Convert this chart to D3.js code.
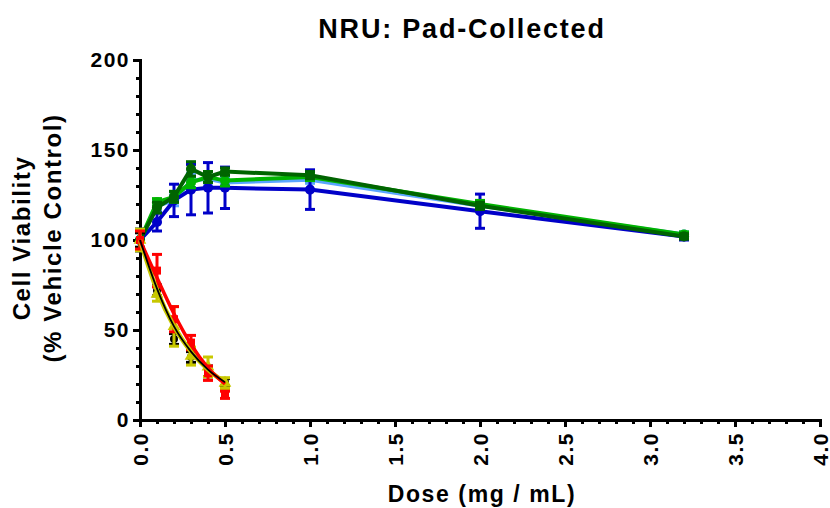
<!DOCTYPE html>
<html>
<head>
<meta charset="utf-8">
<script src="https://cdn.jsdelivr.net/npm/d3@7"></script>
<style>
  body { margin: 0; background: #fff; }
  text { font-family: "Liberation Sans", Arial, sans-serif; font-weight: bold; }
</style>
</head>
<body>
<svg width="830" height="508"></svg>
<script>
// doses
const doses = [0, 0.1, 0.2, 0.3, 0.4, 0.5, 1.0, 2.0, 3.2];
const lowDoses = [0, 0.1, 0.2, 0.3, 0.4, 0.5];

// rising series (straight line segments)
const lightBlueMean = [100, 119, 122, 133, 134, 132, 133.5, 119, 103];
const lightBlueErr = [5, 3, 3, 4, 4, 3, 2, 2, 1.5];
const blueMean = [100, 110, 122, 128, 129, 129, 128, 116, 102];
const blueErr = [6, 5, 9, 14, 14, 11.5, 11, 9.5, 2];
const lightGreenMean = [100, 121, 124, 132, 135, 133, 135, 120, 103];
const lightGreenErr = [5, 2, 3, 3, 3, 3, 2, 2, 1.5];
const darkGreenMean = [100, 118, 124, 139.5, 135, 138, 136, 119, 102];
const darkGreenErr = [6, 3, 3, 4, 3, 2, 2, 2, 1.5];

// falling series: points + fitted curve
const redMean = [100, 83, 56, 43, 26, 14];
const redErr = [5, 9, 7, 4, 4, 2];
const redFit = [100, 79, 59, 42, 29, 20];
const yellowMean = [100, 70, 52, 35.5, 29.5, 20.5];
const yellowErr = [6, 4, 11, 5, 5.5, 3];
const yellowFit = [100, 72, 52, 38, 28, 21];
const blackMean = [100, 72, 45, 35, 27, 21];
const blackErr = [4, 3, 3, 3, 3, 2];
const blackFit = [100, 73, 52, 38, 28, 21];

const xTicks = [0, 0.5, 1.0, 1.5, 2.0, 2.5, 3.0, 3.5, 4.0];
const yTicks = [0, 50, 100, 150, 200];

const svg = d3.select("svg");
const x = d3.scaleLinear().domain([0, 4]).range([140, 820]);
const y = d3.scaleLinear().domain([0, 200]).range([420, 60]);

// title
svg.append("text")
  .attr("x", 462).attr("y", 38)
  .attr("text-anchor", "middle")
  .style("font-size", "27px")
  .style("letter-spacing", "1.8px")
  .text("NRU: Pad-Collected");

// axes
const xAxis = svg.append("g").attr("transform", `translate(0,${y(0)})`)
  .call(d3.axisBottom(x).tickValues(xTicks).tickFormat(d3.format(".1f")).tickSize(7));
const xMinor = svg.append("g").attr("transform", `translate(0,${y(0)})`)
  .call(d3.axisBottom(x).tickValues(d3.range(0, 41).map(i => i / 10)).tickFormat("").tickSize(4));
const yAxis = svg.append("g").attr("transform", `translate(${x(0)},0)`)
  .call(d3.axisLeft(y).tickValues(yTicks).tickSize(7));
const yMinor = svg.append("g").attr("transform", `translate(${x(0)},0)`)
  .call(d3.axisLeft(y).tickValues(d3.range(0, 201, 10)).tickFormat("").tickSize(4));

[xAxis, xMinor, yAxis, yMinor].forEach(g => {
  g.selectAll("path").attr("stroke", "#000").attr("stroke-width", 3);
  g.selectAll("line").attr("stroke", "#000").attr("stroke-width", 3);
});
xMinor.selectAll("path").remove();
yMinor.selectAll("path").remove();

xAxis.selectAll("text")
  .attr("transform", "rotate(-90)")
  .attr("text-anchor", "end")
  .attr("x", -12).attr("y", 0).attr("dy", "0.36em")
  .style("font-size", "21px").style("letter-spacing", "1.5px").attr("fill", "#000");
yAxis.selectAll("text")
  .attr("x", -10)
  .style("font-size", "21px").style("letter-spacing", "1.5px").attr("fill", "#000");

// axis titles
svg.append("text")
  .attr("x", 482).attr("y", 502)
  .attr("text-anchor", "middle")
  .style("font-size", "23px")
  .style("letter-spacing", "1.6px")
  .text("Dose (mg / mL)");
const yl = svg.append("text")
  .attr("transform", "translate(30,238) rotate(-90)")
  .attr("text-anchor", "middle")
  .style("font-size", "24px")
  .style("letter-spacing", "1.6px");
yl.append("tspan").attr("x", 0).attr("dy", 0).text("Cell Viability");
yl.append("tspan").attr("x", 0).attr("dy", 31).text("(% Vehicle Control)");

const plot = svg.append("g");

function drawErrors(xs, means, errs, color) {
  const g = plot.append("g").attr("stroke", color).attr("stroke-width", 3);
  xs.forEach((d, i) => {
    const lo = means[i] - errs[i], hi = means[i] + errs[i];
    g.append("line").attr("x1", x(d)).attr("x2", x(d)).attr("y1", y(lo)).attr("y2", y(hi));
    g.append("line").attr("x1", x(d) - 5).attr("x2", x(d) + 5).attr("y1", y(lo)).attr("y2", y(lo));
    g.append("line").attr("x1", x(d) - 5).attr("x2", x(d) + 5).attr("y1", y(hi)).attr("y2", y(hi));
  });
}

function drawLine(xs, vals, color, curve, w) {
  plot.append("path")
    .datum(xs.map((d, i) => [d, vals[i]]))
    .attr("fill", "none")
    .attr("stroke", color)
    .attr("stroke-width", w)
    .attr("d", d3.line().x(d => x(d[0])).y(d => y(d[1])).curve(curve));
}

function drawMarkers(xs, vals, color, shape, size) {
  const sym = d3.symbol().type(shape).size(size);
  plot.append("g").selectAll("path")
    .data(xs.map((d, i) => [d, vals[i]]))
    .join("path")
    .attr("transform", d => `translate(${x(d[0])},${y(d[1])})`)
    .attr("d", sym)
    .attr("fill", color);
}

const rising = [
  { means: lightBlueMean, errs: lightBlueErr, color: "#5aa5ff" },
  { means: blueMean, errs: blueErr, color: "#0000c8" },
  { means: lightGreenMean, errs: lightGreenErr, color: "#00b400" },
  { means: darkGreenMean, errs: darkGreenErr, color: "#006400" }
];
rising.forEach(s => {
  drawErrors(doses, s.means, s.errs, s.color);
  drawLine(doses, s.means, s.color, d3.curveLinear, 4);
  drawMarkers(doses, s.means, s.color, d3.symbolCircle, 80);
});

const falling = [
  { means: blackMean, errs: blackErr, fit: blackFit, color: "#000000", shape: d3.symbolCircle, size: 50, w: 2 },
  { means: yellowMean, errs: yellowErr, fit: yellowFit, color: "#c8c800", shape: d3.symbolTriangle, size: 70, w: 4.5 },
  { means: redMean, errs: redErr, fit: redFit, color: "#ff0000", shape: d3.symbolSquare, size: 64, w: 3.5 }
];
falling.forEach(s => {
  drawErrors(lowDoses, s.means, s.errs, s.color);
  drawMarkers(lowDoses, s.means, s.color, s.shape, s.size);
});
// yellow fit under, then red, black thin line on top
drawLine(lowDoses, yellowFit, "#c8c800", d3.curveMonotoneX, 4.5);
drawLine(lowDoses, redFit, "#ff0000", d3.curveMonotoneX, 3.5);
drawLine(lowDoses, blackFit, "#000000", d3.curveMonotoneX, 1.8);
</script>
</body>
</html>
